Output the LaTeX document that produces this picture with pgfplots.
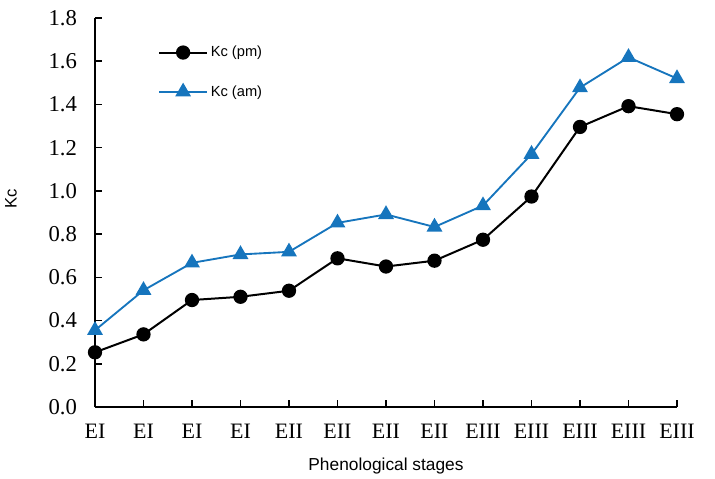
\documentclass[border=0pt]{standalone}
\usepackage{fontspec}
\setmainfont{Liberation Serif}
\newfontfamily\labfont{Liberation Sans}
\newfontfamily\tickfont{Liberation Serif}
\usepackage{pgfplots}
\pgfplotsset{compat=1.18}
\definecolor{kcblue}{RGB}{22,117,189}
\begin{document}
\begin{tikzpicture}[x=1pt,y=1pt]
\begin{axis}[
  scale only axis,
  width=436.5pt, height=291.75pt,
  xmin=0, xmax=12, ymin=0, ymax=1.8,
  clip=false,
  axis lines=left,
  axis line style={-, line width=1.1pt, black},
  tick align=inside,
  major tick length=5pt,
  tick style={line width=1.1pt, black},
  xtick={0,1,2,3,4,5,6,7,8,9,10,11,12},
  xticklabels={EI,EI,EI,EI,EII,EII,EII,EII,EIII,EIII,EIII,EIII,EIII},
  ytick={0,0.2,0.4,0.6,0.8,1.0,1.2,1.4,1.6,1.8},
  yticklabels={0.0,0.2,0.4,0.6,0.8,1.0,1.2,1.4,1.6,1.8},
  yticklabel style={font=\tickfont\fontsize{17}{20}\selectfont, xshift=-10pt},
  xticklabel style={font=\tickfont\fontsize{16.5}{20}\selectfont, yshift=-9pt},
  xlabel={Phenological stages},
  ylabel={Kc},
  every axis x label/.style={at={(rel axis cs:0.5,0)}, yshift=-44pt, anchor=center, font=\labfont\fontsize{13}{15}\selectfont},
  every axis y label/.style={at={(rel axis cs:0,0.535)}, xshift=-63pt, rotate=90, anchor=center, font=\labfont\fontsize{12.5}{15}\selectfont},
  legend style={at={(rel axis cs:0.108,0.935)}, anchor=north west, draw=none, fill=none, inner sep=0pt, row sep=16pt, font=\labfont\fontsize{11}{13}\selectfont, nodes={inner sep=2pt}},
  legend cell align=left,
  legend image code/.code={\draw[mark repeat=2,mark phase=2] plot coordinates {(0pt,0pt) (18pt,0pt) (36pt,0pt)};},
]
\addplot[black, line width=1.5pt, mark=*, mark size=4.6pt, mark options={fill=black}] coordinates {
(0,0.253) (1,0.336) (2,0.495) (3,0.510) (4,0.538) (5,0.688) (6,0.650) (7,0.677) (8,0.774) (9,0.974) (10,1.296) (11,1.392) (12,1.355)};
\addlegendentry{Kc (pm)}
\addplot[kcblue, line width=1.4pt, mark=triangle*, mark size=5.5pt, mark options={fill=kcblue}] coordinates {
(0,0.355) (1,0.540) (2,0.667) (3,0.706) (4,0.718) (5,0.852) (6,0.891) (7,0.833) (8,0.932) (9,1.170) (10,1.478) (11,1.618) (12,1.520)};
\addlegendentry{Kc (am)}
\end{axis}
\pgfresetboundingbox
\useasboundingbox (-71.25pt,-54pt) rectangle (465pt,305.25pt);
\end{tikzpicture}
\end{document}
